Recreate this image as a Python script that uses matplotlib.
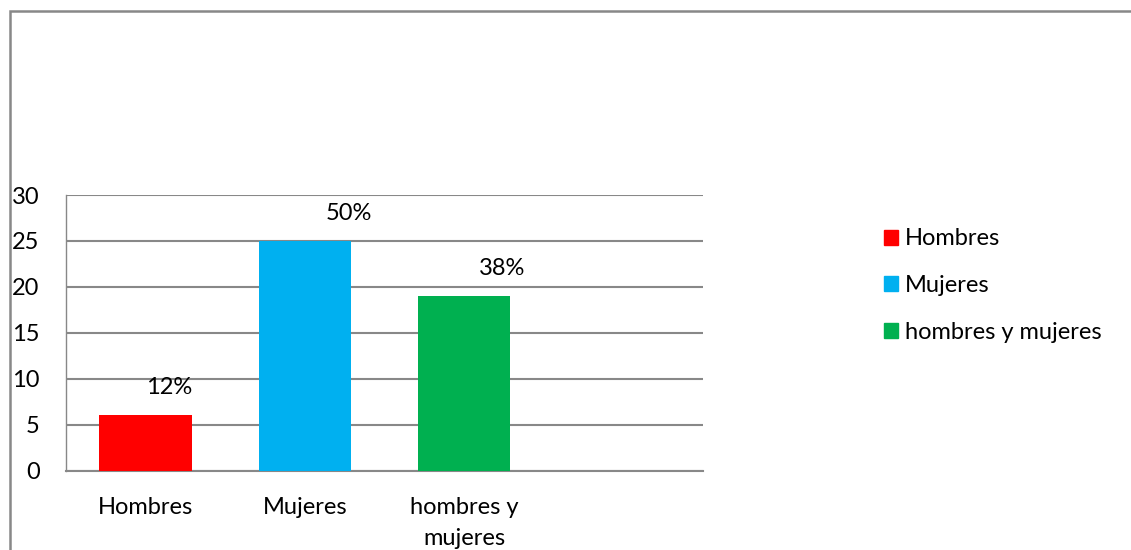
import matplotlib.pyplot as plt
import matplotlib.patches as patches

plt.rcParams['font.family'] = ['Lato', 'DejaVu Sans']

# datos de la encuesta
categorias = ['Hombres', 'Mujeres', 'hombres y\nmujeres']
nombres_leyenda = ['Hombres', 'Mujeres', 'hombres y mujeres']
cantidades = [6, 25, 19]
porcentajes = ['12%', '50%', '38%']
colores = ['#ff0000', '#00b0f0', '#00b050']

# desplazamiento horizontal de cada etiqueta (en puntos)
desp_x = [17, 32, 27]

tam = 17

fig = plt.figure(figsize=(11.31, 5.5), dpi=100)
ax = fig.add_axes([66 / 1131, 1 - 470.5 / 550, 637 / 1131, 275.5 / 550])

barras = ax.bar(range(len(cantidades)), cantidades, width=0.58, color=colores, zorder=3)

for barra, txt, dx in zip(barras, porcentajes, desp_x):
    ax.annotate(txt, (barra.get_x() + barra.get_width() / 2, barra.get_height()),
                xytext=(dx, 20), textcoords='offset points',
                ha='center', va='center', fontsize=tam, color='#000000')

ax.set_xlim(-0.5, 3.5)
ax.set_ylim(0, 30)
ax.set_yticks(range(0, 31, 5))
ax.set_xticks(range(len(categorias)))
ax.set_xticklabels(categorias, fontsize=tam, linespacing=1.6)
ax.tick_params(axis='y', labelsize=tam, length=0, pad=19)
ax.tick_params(axis='x', length=0, pad=19)
ax.grid(axis='y', color='#888888', linewidth=1.5, zorder=0)

for lado in ['top', 'right']:
    ax.spines[lado].set_visible(False)
ax.spines['left'].set_color('#888888')
ax.spines['left'].set_linewidth(1.0)
ax.spines['bottom'].set_color('#888888')
ax.spines['bottom'].set_linewidth(1.5)

manijas = [patches.Rectangle((0, 0), 1, 1, color=c) for c in colores]
fig.legend(manijas, nombres_leyenda, loc='upper left', bbox_to_anchor=(0.773, 0.602),
           frameon=False, fontsize=tam, handlelength=0.6, handleheight=0.6,
           handletextpad=0.3, labelspacing=1.1, borderaxespad=0)

# marco exterior del gráfico
marco = patches.Rectangle((10 / 1131, -0.2), 1.5, 1.2 - 11 / 550, transform=fig.transFigure,
                          fill=False, edgecolor='#888888', linewidth=1.8)
fig.patches.append(marco)

fig.savefig('out.png', dpi=100)
